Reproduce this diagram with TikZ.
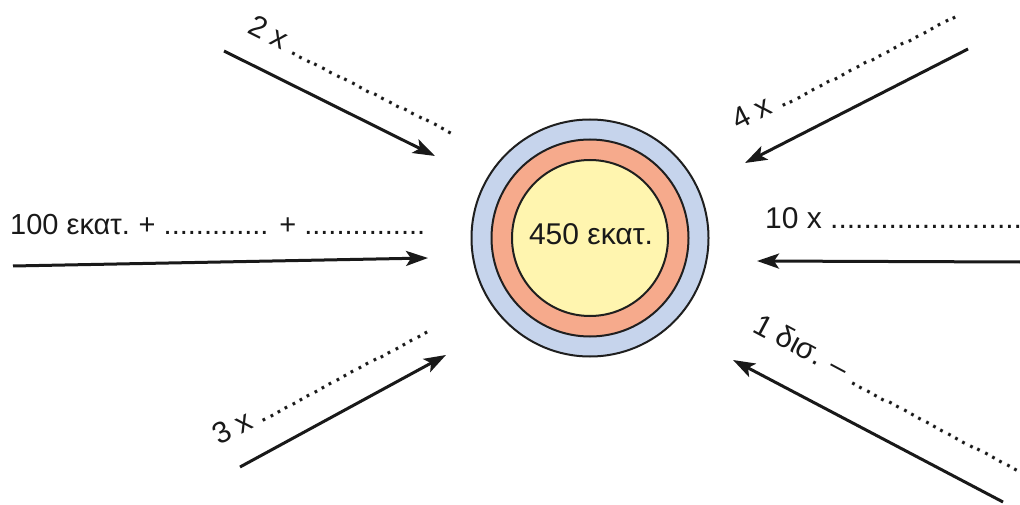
\documentclass[tikz,border=0pt]{standalone}
\usepackage{fontspec}
\setmainfont{Liberation Sans}
\usetikzlibrary{arrows.meta}
\definecolor{ringblue}{HTML}{C6D4EC}
\definecolor{ringsalmon}{HTML}{F6AA8C}
\definecolor{ringyellow}{HTML}{FFF5AF}
\begin{document}
\begin{tikzpicture}[x=1pt,y=-1pt,
  lbl/.style={font=\fontsize{30}{36}\selectfont, inner sep=0pt, anchor=base west, text=black!90},
  arr/.style={line width=3pt, draw=black!90, -{Stealth[length=22pt,width=15pt,inset=5pt]}},
  ring/.style={circle, draw=black!88, line width=2pt, inner sep=0pt}]
\useasboundingbox (0,0) rectangle (1020,505);

% concentric rings
\node[ring, fill=ringblue, minimum size=237pt] (outer) at (590,238) {};
\node[ring, fill=ringsalmon, minimum size=197pt] (middle) at (590,238) {};
\node[ring, fill=ringyellow, minimum size=156pt] (inner) at (590,238) {};
\node[font=\fontsize{30}{36}\selectfont, inner sep=0pt, text=black!90] (total) at (591,234) {450 εκατ.};

% labels with blanks to fill in
\node[lbl, rotate=-26.6] (l2) at (246,32) {2 x ......................};
\node[lbl, rotate=27.2] (l4) at (738,131) {4 x ........................};
\node[lbl, font=\fontsize{29}{35}\selectfont] (l100) at (10,235) {100 εκατ.\hspace{-2pt} + ............. + ...............};
\node[lbl] (l10) at (765,229) {10 x ........................};
\node[lbl, rotate=-28] (l1) at (751,331) {1 δισ. – ........................};
\node[lbl, rotate=28.2] (l3) at (219,446) {3 x .......................};

% arrow end points
\coordinate (a2s) at (224,51);   \coordinate (a2e) at (435,156);
\coordinate (a4s) at (968,49);   \coordinate (a4e) at (745,163);
\coordinate (a100s) at (13,266); \coordinate (a100e) at (428,258);
\coordinate (a10s) at (1020,262);\coordinate (a10e) at (757,261);
\coordinate (a1s) at (1003,502); \coordinate (a1e) at (733,360);
\coordinate (a3s) at (240,467);  \coordinate (a3e) at (446,355);

\draw[arr] (a2s) -- (a2e);
\draw[arr] (a4s) -- (a4e);
\draw[arr] (a100s) -- (a100e);
\draw[arr] (a10s) -- (a10e);
\draw[arr] (a1s) -- (a1e);
\draw[arr] (a3s) -- (a3e);
\end{tikzpicture}
\end{document}
